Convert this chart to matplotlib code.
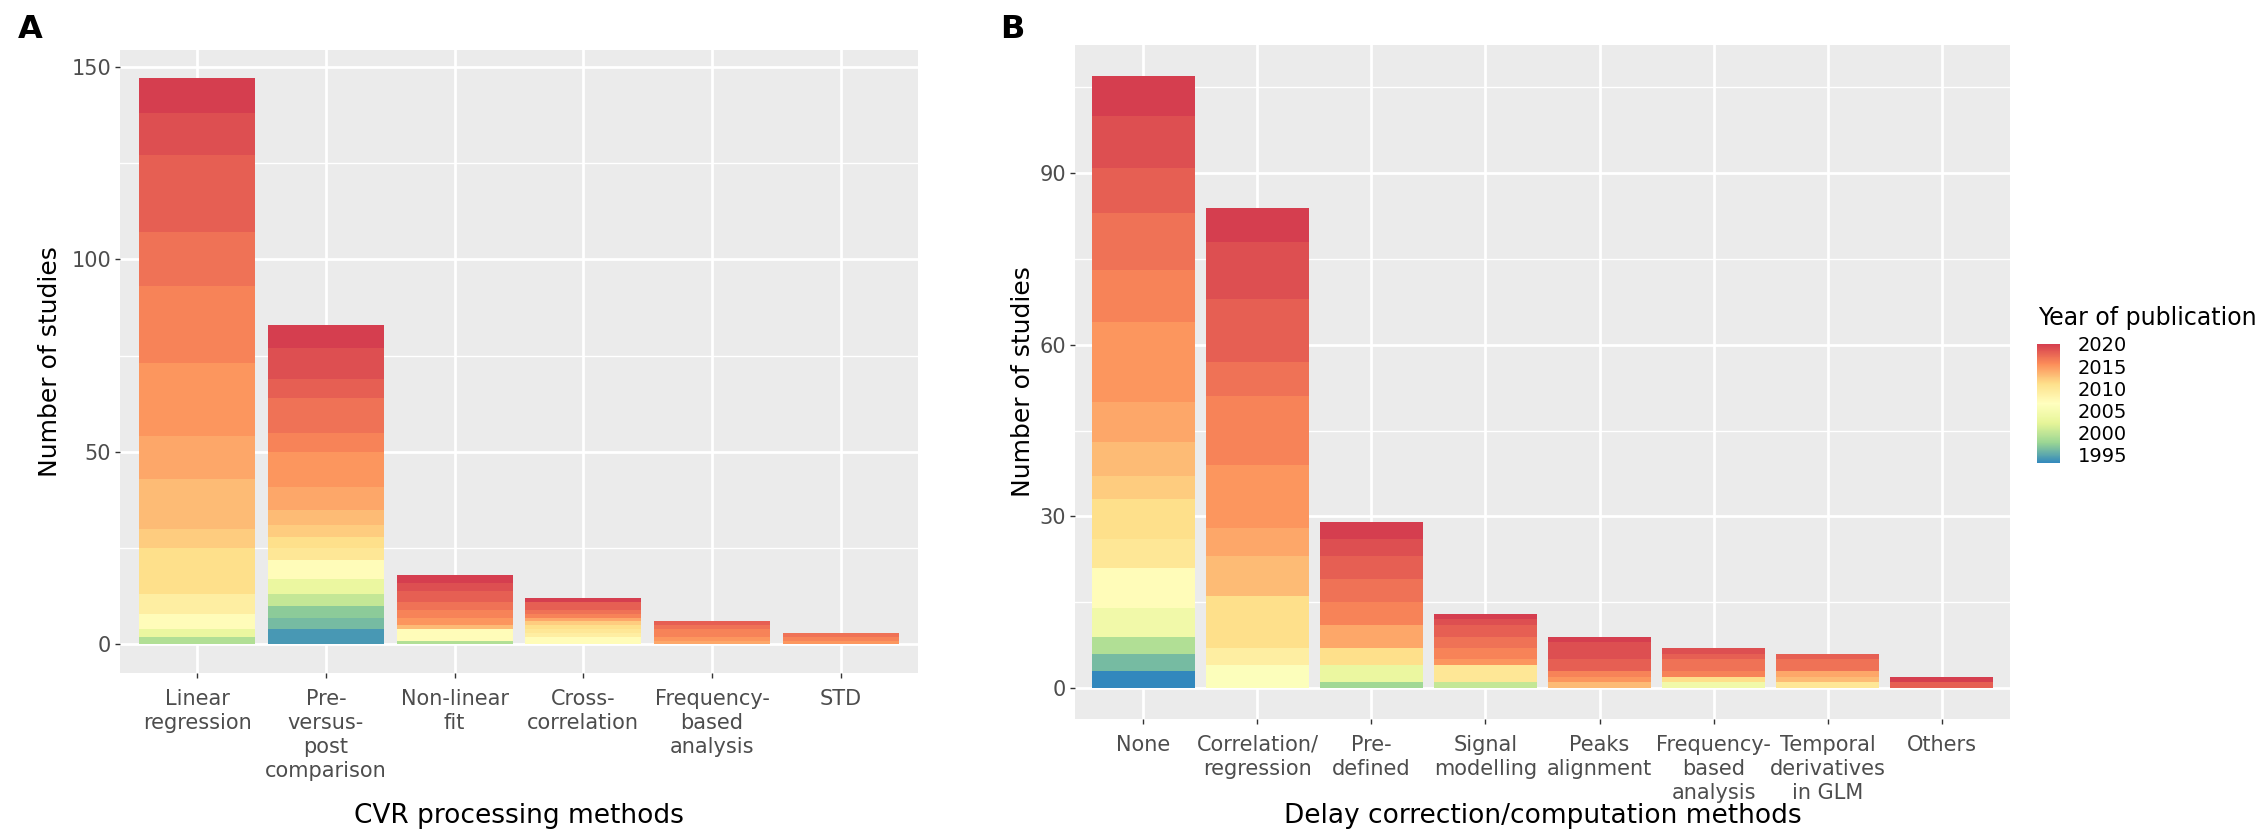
import numpy as np
import matplotlib
matplotlib.use("Agg")
import matplotlib.pyplot as plt
from matplotlib.colors import LinearSegmentedColormap, Normalize
from matplotlib.cm import ScalarMappable
from matplotlib.ticker import MultipleLocator

# ---------------- data ----------------
a_categories = ["Linear\nregression", "Pre-\nversus-\npost\ncomparison", "Non-linear\nfit",
                "Cross-\ncorrelation", "Frequency-\nbased\nanalysis", "STD"]
a_linear_years = [1999, 2003, 2007, 2009, 2011, 2012, 2013, 2014, 2015, 2016, 2017, 2018, 2019, 2020]
a_linear_counts = [2, 2, 4, 5, 12, 5, 13, 11, 19, 20, 14, 20, 11, 9]
a_prepost_years = [1994, 1996, 1997, 2000, 2003, 2007, 2010, 2011, 2012, 2013, 2014, 2015, 2016, 2017, 2018, 2019, 2020]
a_prepost_counts = [4, 3, 3, 3, 4, 5, 3, 3, 3, 4, 6, 9, 5, 9, 5, 8, 6]
a_nonlin_years = [1999, 2007, 2013, 2015, 2016, 2017, 2018, 2019, 2020]
a_nonlin_counts = [1, 3, 1, 2, 2, 2, 3, 2, 2]
a_xcorr_years = [2007, 2009, 2010, 2011, 2012, 2014, 2016, 2017, 2018, 2020]
a_xcorr_counts = [2, 1, 1, 1, 1, 1, 1, 1, 2, 1]
a_freq_years = [2014, 2015, 2016, 2017, 2018]
a_freq_counts = [1, 1, 2, 1, 1]
a_std_years = [2015, 2016, 2017]
a_std_counts = [1, 1, 1]

b_categories = ["None", "Correlation/\nregression", "Pre-\ndefined", "Signal\nmodelling",
                "Peaks\nalignment", "Frequency-\nbased\nanalysis", "Temporal\nderivatives\nin GLM", "Others"]
b_none_years = [1993, 1996, 1999, 2004, 2007, 2010, 2011, 2012, 2013, 2014, 2015, 2016, 2017, 2018, 2019, 2020]
b_none_counts = [3, 3, 3, 5, 7, 5, 7, 4, 6, 7, 14, 9, 10, 8, 9, 7]
b_corr_years = [2006, 2009, 2011, 2013, 2014, 2015, 2016, 2017, 2018, 2019, 2020]
b_corr_counts = [4, 3, 9, 7, 5, 11, 12, 6, 11, 10, 6]
b_predef_years = [1998, 2003, 2011, 2014, 2016, 2017, 2018, 2019, 2020]
b_predef_counts = [1, 3, 3, 4, 4, 4, 4, 3, 3]
b_signal_years = [2000, 2010, 2015, 2016, 2017, 2018, 2019, 2020]
b_signal_counts = [1, 3, 1, 2, 2, 2, 1, 1]
b_peaks_years = [2013, 2015, 2016, 2018, 2019, 2020]
b_peaks_counts = [1, 1, 1, 2, 3, 1]
b_freq_years = [2004, 2011, 2016, 2017, 2018, 2019]
b_freq_counts = [1, 1, 1, 2, 1, 1]
b_temporal_years = [2010, 2013, 2014, 2017, 2018]
b_temporal_counts = [1, 1, 1, 2, 1]
b_others_years = [2018, 2020]
b_others_counts = [1, 1]

legend_ticks = [1995, 2000, 2005, 2010, 2015, 2020]
year_min, year_max = 1993, 2020

a_series = [(a_linear_years, a_linear_counts), (a_prepost_years, a_prepost_counts),
            (a_nonlin_years, a_nonlin_counts), (a_xcorr_years, a_xcorr_counts),
            (a_freq_years, a_freq_counts), (a_std_years, a_std_counts)]
b_series = [(b_none_years, b_none_counts), (b_corr_years, b_corr_counts),
            (b_predef_years, b_predef_counts), (b_signal_years, b_signal_counts),
            (b_peaks_years, b_peaks_counts), (b_freq_years, b_freq_counts),
            (b_temporal_years, b_temporal_counts), (b_others_years, b_others_counts)]

# ---------------- style ----------------
spectral7 = ["#3288bd", "#99d594", "#e6f598", "#ffffbf", "#fee08b", "#fc8d59", "#d53e4f"]
cmap = LinearSegmentedColormap.from_list("spec", spectral7)
norm = Normalize(vmin=year_min, vmax=year_max)

W, H = 2268, 832
fig = plt.figure(figsize=(W / 100, H / 100), dpi=100)
plt.rcParams['font.family'] = ['DejaVu Sans']

PANEL_BG = "#EBEBEB"
TICK_TXT = "#4D4D4D"


def px_axes(l, r, t, b):
    return fig.add_axes([l / W, 1 - b / H, (r - l) / W, (b - t) / H])


def draw_panel(ax, categories, series, major, minor, ylab_x, xlab_y):
    ax.set_facecolor(PANEL_BG)
    for s in ax.spines.values():
        s.set_visible(False)
    totals = []
    for i, (years, counts) in enumerate(series):
        bottom = 0
        for yr, c in zip(years, counts):
            ax.bar(i, c, bottom=bottom, width=0.9, color=cmap(norm(yr)),
                   edgecolor="none", zorder=3)
            bottom += c
        totals.append(bottom)
    top = max(totals)
    ax.set_ylim(-0.05 * top, 1.05 * top)
    ax.set_xlim(-0.6, len(categories) - 0.4)
    ax.yaxis.set_major_locator(MultipleLocator(major))
    ax.yaxis.set_minor_locator(MultipleLocator(minor))
    ax.set_xticks(range(len(categories)))
    ax.set_xticklabels(categories, linespacing=1.25, va="top")
    ax.grid(True, which="major", color="white", lw=2.0, zorder=0)
    ax.grid(True, which="minor", axis="y", color="white", lw=1.0, zorder=0)
    ax.set_axisbelow(True)
    ax.tick_params(axis="both", which="major", length=3.5, width=1.0, color="#333333",
                   labelcolor=TICK_TXT, labelsize=15, pad=3)
    ax.tick_params(axis="y", which="minor", length=0)
    ax.tick_params(axis="x", pad=8)
    ax.set_ylabel("Number of studies", fontsize=18, color="black")
    ax.yaxis.set_label_coords(ylab_x, 0.5)
    ax.set_xlabel(ax.get_xlabel(), fontsize=19)
    ax.xaxis.set_label_coords(0.5, xlab_y)
    ax.xaxis.label.set_va("top")


axA = px_axes(120, 918, 49.8, 672.8)
axA.set_xlabel("CVR processing methods")
draw_panel(axA, a_categories, a_series, 50, 25, (62 - 120) / 798, -(803 - 672.8) / 623)

axB = px_axes(1075, 2010, 45.4, 718.6)
axB.set_xlabel("Delay correction/computation methods")
draw_panel(axB, b_categories, b_series, 30, 15, (1035 - 1075) / 935, -(803 - 718.6) / 673.2)

# panel letters
fig.text(18 / W, 1 - 38 / H, "A", fontsize=23, fontweight="bold", va="baseline")
fig.text(1000 / W, 1 - 38 / H, "B", fontsize=23, fontweight="bold", va="baseline")

# colour legend
cax = px_axes(2037, 2060, 344, 463)
sm = ScalarMappable(norm=norm, cmap=cmap)
cb = fig.colorbar(sm, cax=cax, ticks=legend_ticks)
cb.outline.set_visible(False)
cb.ax.tick_params(length=0, labelsize=14, pad=13, labelcolor="black")
fig.text(2038 / W, 1 - 325 / H, "Year of publication", fontsize=17, va="baseline")

fig.savefig("out.png", dpi=100, facecolor="white")
